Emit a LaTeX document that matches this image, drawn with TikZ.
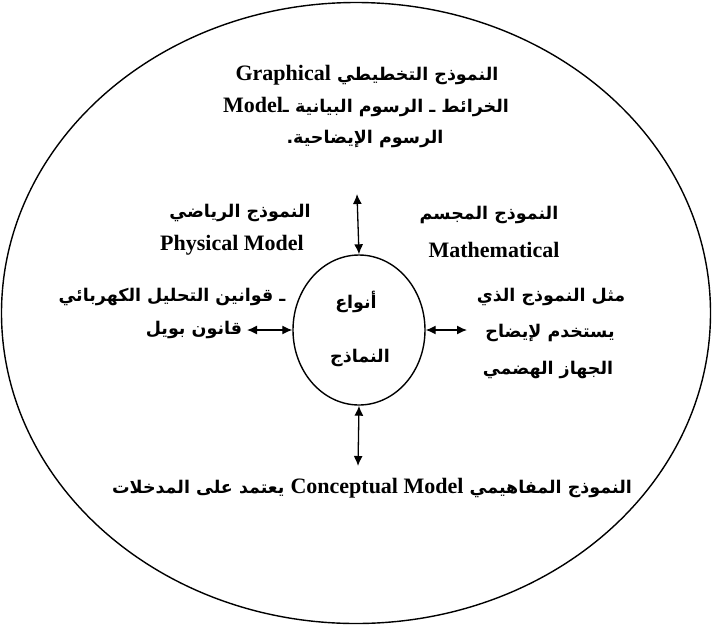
\documentclass[tikz,border=0pt]{standalone}
\usepackage{fontspec}
\setmainfont{Liberation Serif}
\newfontfamily\arabicfont[Script=Arabic]{DejaVu Sans}
\TeXXeTstate=1
\usetikzlibrary{shapes.geometric,arrows.meta}
\newcommand{\ar}[1]{{\arabicfont\bfseries\beginR #1\endR}}
\newcommand{\la}[1]{{\rmfamily\bfseries\fontsize{22}{26}\selectfont\beginL #1\endL}}
\begin{document}
\begin{tikzpicture}[x=1pt,y=-1pt,
  txt/.style={inner sep=0pt, font=\fontsize{17.5}{20}\selectfont},
  lat/.style={inner sep=0pt, font=\fontsize{22}{26}\selectfont\bfseries},
  conn/.style={{Latex[length=10pt,width=9pt]}-{Latex[length=10pt,width=9pt]}, line width=1.3pt},
  ring/.style={draw, ellipse, line width=1.4pt, inner sep=0pt}]
\useasboundingbox (0,0) rectangle (712,625);
\node[ring, minimum width=709pt, minimum height=621pt] (outer) at (356,313) {};
\node[ring, minimum width=132pt, minimum height=150pt] (types) at (359,330) {};
\node[txt] (t1) at (356,302) {\ar{أنواع}};
\node[txt] (t2) at (360,358) {\ar{النماذج}};
% top
\node[txt] (g1) at (367,75) {\ar{النموذج التخطيطي \la{Graphical}}};
\node[txt] (g2) at (366,107) {\la{Model}\ar{الخرائط ـ الرسوم البيانية ـ}};
\node[txt] (g3) at (365,139) {\ar{الرسوم الإيضاحية.}};
% left upper
\node[txt] (p1) at (240,213) {\ar{النموذج الرياضي}};
\node[lat] (p2) at (232,245) {Physical Model};
% right upper
\node[txt] (m1) at (489,215) {\ar{النموذج المجسم}};
\node[lat] (m2) at (494,250) {Mathematical};
% left middle
\node[txt] (l1) at (172,297) {\ar{ـ قوانين التحليل الكهربائي}};
\node[txt] (l2) at (194,330) {\ar{قانون بويل}};
% right middle
\node[txt] (r1) at (551,297) {\ar{مثل النموذج الذي}};
\node[txt] (r2) at (550,333) {\ar{يستخدم لإيضاح}};
\node[txt] (r3) at (548,370) {\ar{الجهاز الهضمي}};
% bottom
\node[txt] (b1) at (372,488) {\ar{النموذج المفاهيمي \la{Conceptual Model} يعتمد على المدخلات}};
% connectors
\coordinate (ctop) at (357,194);
\coordinate (cbot) at (358,466);
\coordinate (cleft) at (247,330);
\coordinate (cright) at (467,330);
\draw[conn] (ctop) -- (types.north);
\draw[conn] (types.south) -- (cbot);
\draw[conn] (cleft) -- (types.west);
\draw[conn] (types.east) -- (cright);
\end{tikzpicture}
\end{document}
